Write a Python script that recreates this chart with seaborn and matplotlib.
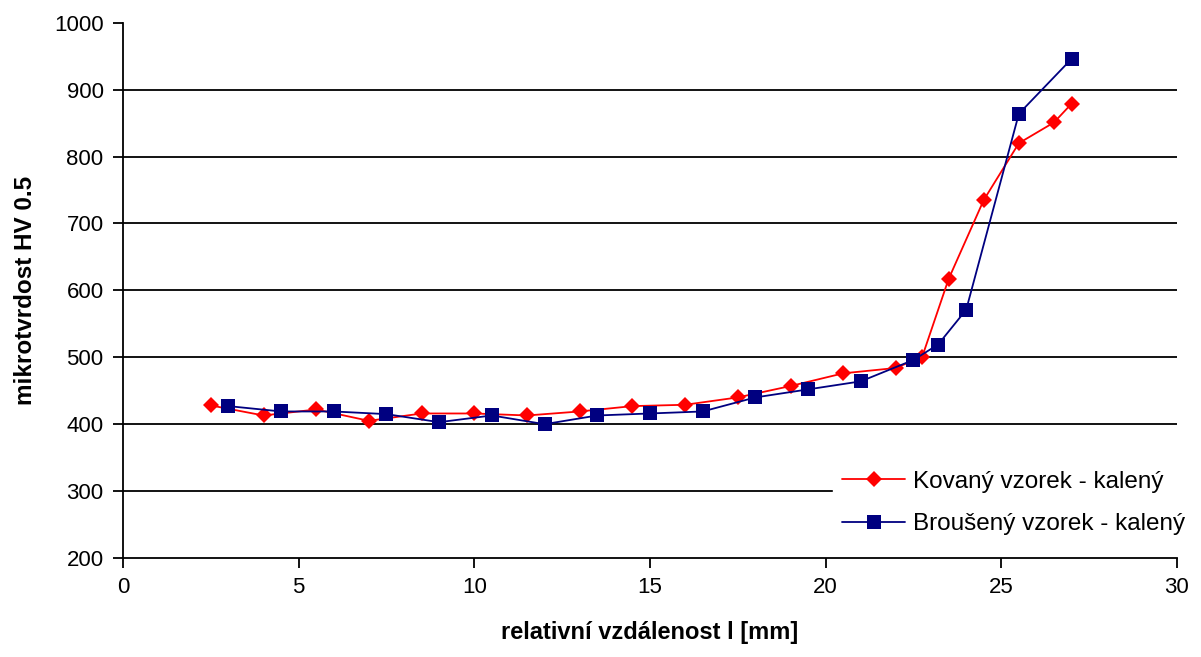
import numpy as np
import pandas as pd
import matplotlib
matplotlib.use('Agg')
import matplotlib.pyplot as plt
import seaborn as sns

# Kovaný vzorek - kalený
x_kov = [2.5, 4.0, 5.5, 7.0, 8.5, 10.0, 11.5, 13.0, 14.5, 16.0, 17.5, 19.0, 20.5,
         22.0, 22.75, 23.5, 24.5, 25.5, 26.5, 27.0]
y_kov = [428, 413, 422, 405, 416, 416, 413, 419, 427, 429, 440, 457, 476,
         484, 501, 617, 735, 820, 851, 879]

# Broušený vzorek - kalený
x_bro = [3.0, 4.5, 6.0, 7.5, 9.0, 10.5, 12.0, 13.5, 15.0, 16.5, 18.0, 19.5, 21.0,
         22.5, 23.2, 24.0, 25.5, 27.0]
y_bro = [427, 419, 419, 415, 403, 413, 400, 413, 416, 419, 440, 452, 464,
         496, 519, 571, 864, 946]

label_kov = 'Kovaný vzorek - kalený'
label_bro = 'Broušený vzorek - kalený'

sns.set_style('white')
plt.rcParams['font.family'] = ['Liberation Sans', 'DejaVu Sans']

fig = plt.figure(figsize=(12.01, 6.57), dpi=100)
ax = fig.add_axes([0.1024, 0.1507, 0.8776, 0.8147])

sns.lineplot(x=x_kov, y=y_kov, ax=ax, sort=False, color='#FF0000', lw=1.3,
             marker='D', markersize=8, markeredgewidth=0, label=label_kov, zorder=3)
sns.lineplot(x=x_bro, y=y_bro, ax=ax, sort=False, color='#000080', lw=1.3,
             marker='s', markersize=10, markeredgewidth=0, label=label_bro, zorder=4)

ax.set_xlim(0, 30)
ax.set_ylim(200, 1000)
ax.set_xticks(np.arange(0, 31, 5))
ax.set_yticks(np.arange(200, 1001, 100))
for v in range(300, 1000, 100):
    ax.axhline(v, color='black', lw=1.3, zorder=1)

for s in ['top', 'right']:
    ax.spines[s].set_visible(False)
for s in ['left', 'bottom']:
    ax.spines[s].set_color('black')
    ax.spines[s].set_linewidth(1.3)

ax.tick_params(axis='both', direction='out', length=7, width=1.3, color='black',
               labelsize=16, labelcolor='black', pad=7)
ax.tick_params(left=True, bottom=True)

ax.set_xlabel('relativní vzdálenost l [mm]', fontsize=17, fontweight='bold',
              labelpad=16, color='black')
ax.set_ylabel('mikrotvrdost HV 0.5', fontsize=17.5, fontweight='bold',
              labelpad=12, color='black')

leg = ax.legend(loc='upper left', bbox_to_anchor=(0.6736, 0.18), borderaxespad=0,
                frameon=True, fontsize=17.5, handlelength=2.6, labelspacing=0.84,
                borderpad=0.37, handletextpad=0.33, labelcolor='black')
leg.get_frame().set_facecolor('white')
leg.get_frame().set_edgecolor('white')
leg.get_frame().set_alpha(1)
leg.get_frame().set_boxstyle('square', pad=0)
leg.set_zorder(10)

fig.savefig('out.png', dpi=100)
